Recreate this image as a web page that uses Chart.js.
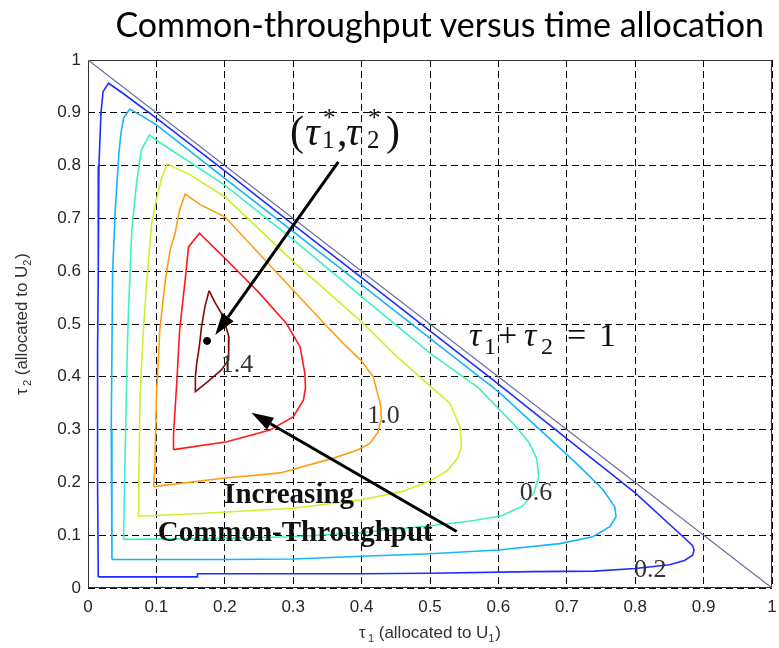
<!DOCTYPE html>
<html>
<head>
<meta charset="utf-8">
<title>Common-throughput versus time allocation</title>
<script src="https://cdn.jsdelivr.net/npm/chart.js@4/dist/chart.umd.min.js"></script>
<style>
  html, body { margin: 0; padding: 0; background: #fff; }
  #wrap { position: relative; width: 779px; height: 648px; }
  #title {
    position: absolute; right: 15px; top: 3px;
    font-family: Lato, "Open Sans", sans-serif; font-size: 34px; color: #000;
    white-space: nowrap;
  }
  canvas { position: absolute; left: 0; top: 0; }
</style>
</head>
<body>
<div id="wrap">
  <canvas id="contourChart" width="779" height="648"></canvas>
  <div id="title">Common-throughput versus time allocation</div>
</div>
<script>
// tick labels (tau1 on x, tau2 on y)
const xTickLabels = ['0', '0.1', '0.2', '0.3', '0.4', '0.5', '0.6', '0.7', '0.8', '0.9', '1'];
const yTickLabels = ['0', '0.1', '0.2', '0.3', '0.4', '0.5', '0.6', '0.7', '0.8', '0.9', '1'];

// contour levels of the common throughput
const levels = [0.2, 0.4, 0.6, 0.8, 1.0, 1.2, 1.4];
const levelColors = ['#1f2dff', '#14b4ff', '#3cf2c4', '#c8f22c', '#ff9d10', '#ff1a1a', '#7f0a0a'];

const level02X = [0.015, 0.10, 0.16, 0.16, 0.40, 0.50, 0.65, 0.74, 0.80, 0.85, 0.872, 0.884, 0.886, 0.884, 0.87, 0.80, 0.70, 0.60, 0.50, 0.40, 0.30, 0.20, 0.10, 0.05, 0.030, 0.022, 0.019, 0.016, 0.015, 0.014, 0.014, 0.015];
const level02Y = [0.021, 0.021, 0.021, 0.027, 0.027, 0.028, 0.031, 0.032, 0.037, 0.044, 0.052, 0.062, 0.072, 0.080, 0.097, 0.180, 0.283, 0.386, 0.487, 0.588, 0.688, 0.790, 0.890, 0.938, 0.956, 0.940, 0.900, 0.800, 0.600, 0.450, 0.200, 0.021];

const level04X = [0.035, 0.20, 0.30, 0.40, 0.50, 0.60, 0.69, 0.738, 0.763, 0.772, 0.770, 0.753, 0.719, 0.69, 0.60, 0.50, 0.40, 0.30, 0.20, 0.10, 0.075, 0.061, 0.052, 0.048, 0.045, 0.040, 0.036, 0.034, 0.035];
const level04Y = [0.054, 0.054, 0.055, 0.060, 0.065, 0.072, 0.084, 0.097, 0.116, 0.135, 0.154, 0.186, 0.230, 0.265, 0.372, 0.473, 0.574, 0.675, 0.776, 0.877, 0.897, 0.907, 0.890, 0.860, 0.820, 0.720, 0.600, 0.300, 0.054];

const level06X = [0.052, 0.20, 0.30, 0.40, 0.50, 0.56, 0.605, 0.635, 0.652, 0.659, 0.656, 0.645, 0.624, 0.57, 0.50, 0.40, 0.30, 0.20, 0.10, 0.09, 0.078, 0.071, 0.066, 0.064, 0.059, 0.057, 0.054, 0.052];
const level06Y = [0.092, 0.094, 0.097, 0.105, 0.118, 0.127, 0.137, 0.155, 0.180, 0.212, 0.245, 0.275, 0.308, 0.380, 0.445, 0.552, 0.660, 0.763, 0.848, 0.858, 0.830, 0.767, 0.703, 0.678, 0.520, 0.425, 0.236, 0.092];

const level08X = [0.074, 0.164, 0.30, 0.40, 0.46, 0.50, 0.525, 0.540, 0.546, 0.544, 0.529, 0.50, 0.45, 0.40, 0.30, 0.20, 0.15, 0.116, 0.108, 0.100, 0.093, 0.086, 0.081, 0.076, 0.074, 0.074];
const level08Y = [0.136, 0.141, 0.151, 0.167, 0.183, 0.203, 0.222, 0.245, 0.268, 0.305, 0.350, 0.383, 0.440, 0.504, 0.618, 0.741, 0.782, 0.803, 0.779, 0.735, 0.690, 0.583, 0.489, 0.362, 0.174, 0.136];

const level10X = [0.096, 0.197, 0.281, 0.359, 0.395, 0.412, 0.424, 0.429, 0.428, 0.417, 0.40, 0.378, 0.354, 0.30, 0.20, 0.164, 0.142, 0.134, 0.127, 0.120, 0.113, 0.105, 0.100, 0.098, 0.096];
const level10Y = [0.192, 0.208, 0.218, 0.246, 0.262, 0.274, 0.295, 0.320, 0.345, 0.400, 0.430, 0.457, 0.489, 0.564, 0.703, 0.726, 0.746, 0.716, 0.670, 0.640, 0.583, 0.489, 0.362, 0.236, 0.192];

const level12X = [0.125, 0.203, 0.266, 0.300, 0.315, 0.318, 0.317, 0.310, 0.290, 0.251, 0.20, 0.188, 0.163, 0.147, 0.142, 0.134, 0.130, 0.125, 0.125];
const level12Y = [0.262, 0.277, 0.299, 0.324, 0.356, 0.380, 0.407, 0.457, 0.501, 0.558, 0.625, 0.640, 0.672, 0.646, 0.583, 0.489, 0.394, 0.290, 0.262];

const level14X = [0.177, 0.186, 0.195, 0.203, 0.206, 0.206, 0.205, 0.195, 0.176, 0.157, 0.157, 0.159, 0.163, 0.166, 0.171, 0.177];
const level14Y = [0.563, 0.540, 0.520, 0.489, 0.476, 0.455, 0.432, 0.413, 0.392, 0.372, 0.400, 0.426, 0.460, 0.495, 0.533, 0.563];

const contourX = [level02X, level04X, level06X, level08X, level10X, level12X, level14X];
const contourY = [level02Y, level04Y, level06Y, level08Y, level10Y, level12Y, level14Y];

// optimum (tau1*, tau2*)
const optimumX = [0.174];
const optimumY = [0.468];

// feasibility boundary tau1 + tau2 = 1
const boundaryX = [0, 1];
const boundaryY = [1, 0];

// inline contour labels
const levelLabelText = ['1.4', '1.0', '0.6', '0.2'];
const levelLabelX = [0.218, 0.432, 0.655, 0.822];
const levelLabelY = [0.409, 0.3125, 0.167, 0.021];

// arrows: one to the optimum, one towards increasing throughput
const arrowFromX = [0.366, 0.539];
const arrowFromY = [0.807, 0.107];
const arrowToX = [0.186, 0.239];
const arrowToY = [0.479, 0.332];

function toPoints(xs, ys) {
  return xs.map((x, i) => ({ x: x, y: ys[i] }));
}

const datasets = [{
  data: toPoints(boundaryX, boundaryY),
  showLine: true, borderColor: '#6b6b9e', borderWidth: 1.2, pointRadius: 0
}];
levels.forEach((lv, i) => {
  datasets.push({
    label: String(lv),
    data: toPoints(contourX[i], contourY[i]),
    showLine: true,
    borderColor: levelColors[i],
    borderWidth: 1.6,
    pointRadius: 0,
    tension: 0
  });
});
datasets.push({
  data: toPoints(optimumX, optimumY),
  showLine: false, pointRadius: 3.5, backgroundColor: '#000', borderColor: '#000'
});

// draws a run of text pieces (for sub/superscripts) from a pixel anchor
function drawRuns(ctx, x0, y0, runs) {
  runs.forEach(r => {
    ctx.font = r.font;
    ctx.fillText(r.text, x0 + r.dx, y0 + (r.dy || 0));
  });
}

const frame = {
  id: 'frame',
  beforeDatasetsDraw(chart) {
    const { ctx, chartArea: a } = chart;
    ctx.save();
    ctx.strokeStyle = '#333';
    ctx.lineWidth = 1;
    ctx.strokeRect(a.left + 0.5, a.top + 0.5, a.width - 1, a.height - 1);
    ctx.restore();
  }
};

const annotations = {
  id: 'annotations',
  afterDatasetsDraw(chart) {
    const { ctx, chartArea: a } = chart;
    const sx = chart.scales.x, sy = chart.scales.y;
    ctx.save();

    // arrows
    ctx.strokeStyle = '#000';
    ctx.fillStyle = '#000';
    ctx.lineWidth = 3;
    arrowFromX.forEach((_, i) => {
      const x1 = sx.getPixelForValue(arrowFromX[i]), y1 = sy.getPixelForValue(arrowFromY[i]);
      const x2 = sx.getPixelForValue(arrowToX[i]), y2 = sy.getPixelForValue(arrowToY[i]);
      const ang = Math.atan2(y2 - y1, x2 - x1);
      const len = 22, half = 7;
      const bx = x2 - len * Math.cos(ang), by = y2 - len * Math.sin(ang);
      ctx.beginPath();
      ctx.moveTo(x1, y1);
      ctx.lineTo(bx, by);
      ctx.stroke();
      ctx.beginPath();
      ctx.moveTo(x2, y2);
      ctx.lineTo(bx + half * Math.sin(ang), by - half * Math.cos(ang));
      ctx.lineTo(bx - half * Math.sin(ang), by + half * Math.cos(ang));
      ctx.closePath();
      ctx.fill();
    });

    // contour level labels
    ctx.fillStyle = '#333';
    ctx.font = '26px "Liberation Serif", serif';
    ctx.textAlign = 'center';
    ctx.textBaseline = 'alphabetic';
    levelLabelText.forEach((t, i) => {
      ctx.fillText(t, sx.getPixelForValue(levelLabelX[i]), sy.getPixelForValue(levelLabelY[i]));
    });

    // "Increasing Common-Throughput"
    ctx.fillStyle = '#111';
    ctx.font = 'bold 29px "Liberation Serif", serif';
    ctx.fillText('Increasing', sx.getPixelForValue(0.294), sy.getPixelForValue(0.161));
    ctx.fillText('Common-Throughput', sx.getPixelForValue(0.303), sy.getPixelForValue(0.089));

    // (tau1*, tau2*)
    ctx.textAlign = 'left';
    const big = '42px "Liberation Serif", serif';
    const bigIt = 'italic 41px "Liberation Serif", serif';
    const small = '25px "Liberation Serif", serif';
    drawRuns(ctx, sx.getPixelForValue(0.2953), sy.getPixelForValue(0.839), [
      { text: '(', font: big, dx: 0 },
      { text: '\u03c4', font: bigIt, dx: 15 },
      { text: '1', font: small, dx: 32, dy: 3 },
      { text: '*', font: small, dx: 33, dy: -19 },
      { text: ',', font: big, dx: 47 },
      { text: '\u03c4', font: bigIt, dx: 56 },
      { text: '2', font: small, dx: 77, dy: 3 },
      { text: '*', font: small, dx: 78, dy: -19 },
      { text: ')', font: big, dx: 96 }
    ]);

    // tau1 + tau2 = 1
    const mid = '34px "Liberation Serif", serif';
    const midIt = 'italic 34px "Liberation Serif", serif';
    const sub = '24px "Liberation Serif", serif';
    drawRuns(ctx, sx.getPixelForValue(0.557), sy.getPixelForValue(0.458), [
      { text: '\u03c4', font: midIt, dx: 0 },
      { text: '1', font: sub, dx: 15, dy: 8 },
      { text: '+', font: mid, dx: 29 },
      { text: '\u03c4', font: midIt, dx: 55 },
      { text: '2', font: sub, dx: 72, dy: 8 },
      { text: '=', font: mid, dx: 98 },
      { text: '1', font: mid, dx: 130 }
    ]);

    // axis titles
    ctx.fillStyle = '#333';
    const axisFont = '17px "Liberation Sans", Arial, sans-serif';
    const axisSub = '11px "Liberation Sans", Arial, sans-serif';
    const xTitle = [
      { text: '\u03c4', font: axisFont, dx: 0 },
      { text: '1', font: axisSub, dx: 9, dy: 4 },
      { text: ' (allocated to U', font: axisFont, dx: 15 },
    ];
    ctx.font = axisFont;
    const w1 = ctx.measureText(' (allocated to U').width;
    xTitle.push({ text: '1', font: axisSub, dx: 15 + w1, dy: 4 });
    xTitle.push({ text: ')', font: axisFont, dx: 22 + w1 });
    const xTitleW = 22 + w1 + ctx.measureText(')').width;
    const cx = (a.left + a.right) / 2;
    drawRuns(ctx, cx - xTitleW / 2, 638, xTitle);

    ctx.translate(27, (a.top + a.bottom) / 2);
    ctx.rotate(-Math.PI / 2);
    const yTitle = [
      { text: '\u03c4', font: axisFont, dx: 0 },
      { text: '2', font: axisSub, dx: 9, dy: 4 },
      { text: ' (allocated to U', font: axisFont, dx: 15 },
      { text: '2', font: axisSub, dx: 15 + w1, dy: 4 },
      { text: ')', font: axisFont, dx: 22 + w1 }
    ];
    drawRuns(ctx, -xTitleW / 2, 0, yTitle);
    ctx.restore();
  }
};

const tickFont = { family: '"Liberation Sans", Arial, sans-serif', size: 17 };

new Chart(document.getElementById('contourChart').getContext('2d'), {
  type: 'scatter',
  data: { datasets: datasets },
  options: {
    responsive: false,
    animation: false,
    layout: { padding: { top: 60, right: 7, bottom: 0, left: 0 } },
    plugins: { legend: { display: false }, tooltip: { enabled: false } },
    scales: {
      x: {
        type: 'linear', min: 0, max: 1,
        ticks: {
          stepSize: 0.1, color: '#262626', font: tickFont, padding: 9,
          maxRotation: 0, autoSkip: false,
          callback: (v, i) => xTickLabels[i]
        },
        grid: { color: '#000', lineWidth: 1, drawTicks: false },
        border: { display: false, dash: [7, 4] },
        afterFit(scale) {
          scale.height = 60;
          scale.paddingLeft = 0;
          scale.paddingRight = 0;
        }
      },
      y: {
        type: 'linear', min: 0, max: 1,
        ticks: {
          stepSize: 0.1, color: '#262626', font: tickFont, padding: 7,
          autoSkip: false,
          callback: (v, i) => yTickLabels[i]
        },
        grid: { color: '#000', lineWidth: 1, drawTicks: false },
        border: { display: false, dash: [7, 4] },
        afterFit(scale) {
          scale.width = 88;
          scale.paddingTop = 0;
          scale.paddingBottom = 0;
        }
      }
    }
  },
  plugins: [frame, annotations]
});
</script>
</body>
</html>
